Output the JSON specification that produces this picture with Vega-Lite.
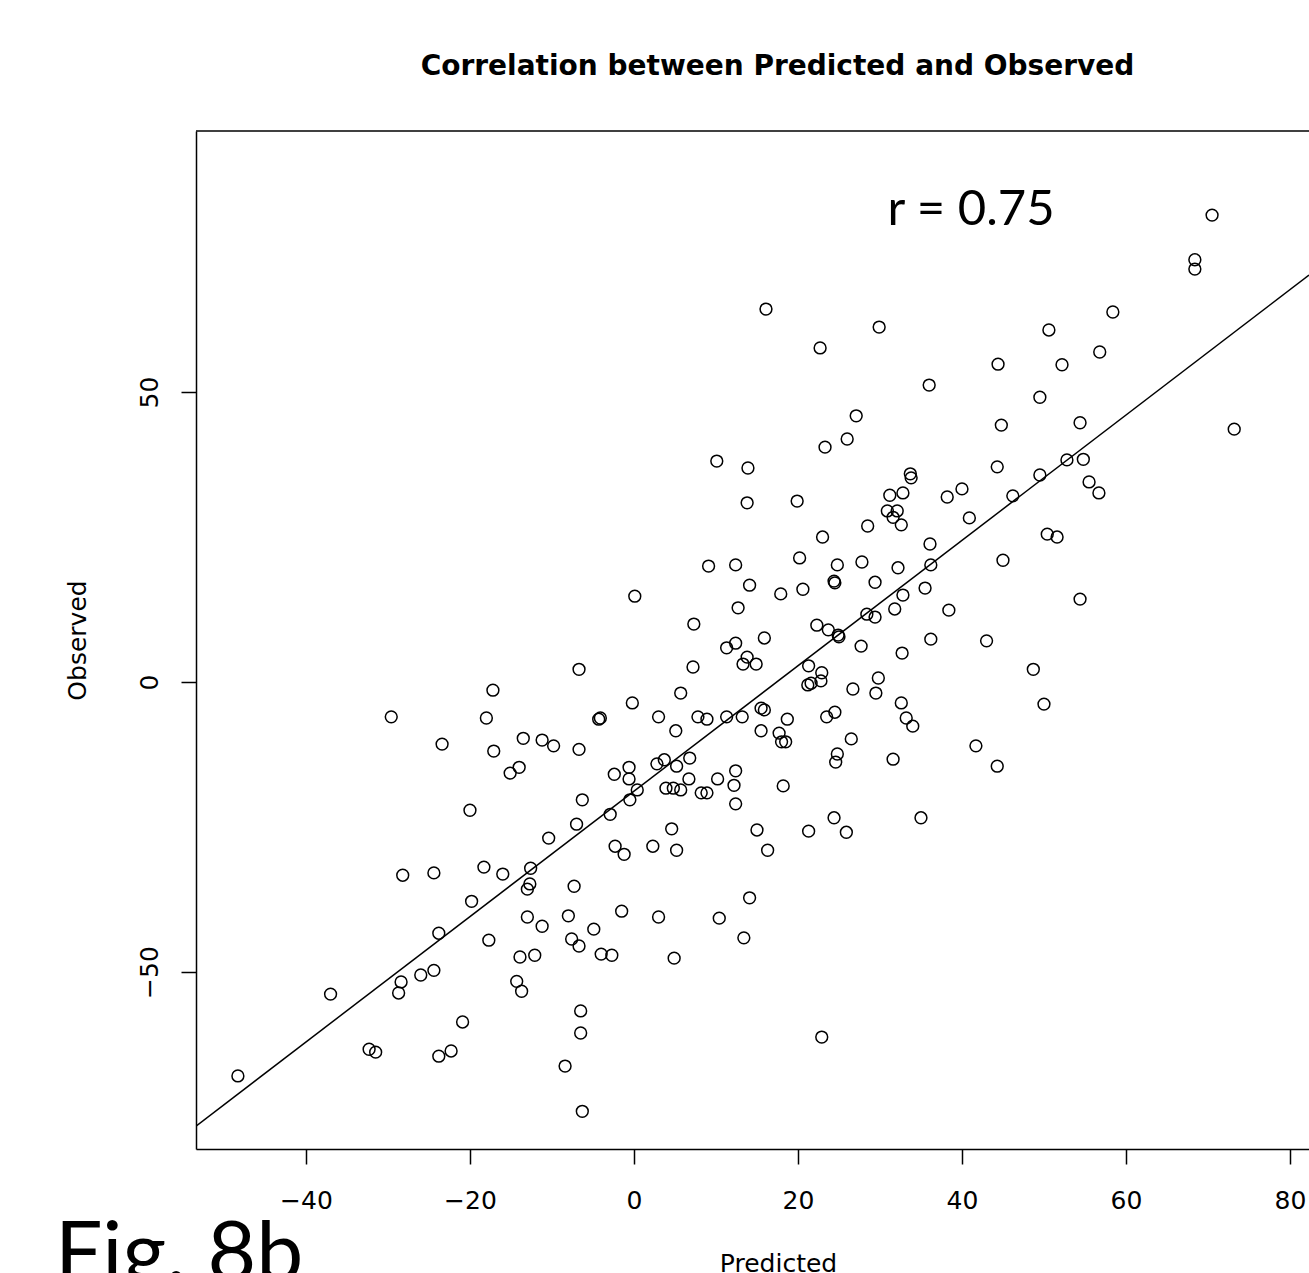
{
  "$schema": "https://vega.github.io/schema/vega-lite/v6.json",
  "width": 1113,
  "height": 1018,
  "autosize": {"type": "none"},
  "padding": {"left": 196, "top": 131, "right": 0, "bottom": 124},
  "background": "white",
  "title": {"text": "Correlation between Predicted and Observed", "font": "DejaVu Sans", "fontSize": 28, "fontWeight": "bold", "color": "black", "anchor": "middle", "dx": 25, "offset": 27, "baseline": "alphabetic"},
  "config": {"view": {"stroke": null}},
  "datasets": {
    "points": [
      {"Predicted": 16.1, "Observed": 64.3}, {"Predicted": 10.1, "Observed": 38.1}, {"Predicted": 13.9, "Observed": 36.9}, {"Predicted": 13.8, "Observed": 30.9},
      {"Predicted": 9.1, "Observed": 20.0}, {"Predicted": 12.4, "Observed": 20.2}, {"Predicted": 14.1, "Observed": 16.7}, {"Predicted": 0.1, "Observed": 14.8},
      {"Predicted": 12.7, "Observed": 12.8}, {"Predicted": 7.3, "Observed": 10.0}, {"Predicted": 12.4, "Observed": 6.7}, {"Predicted": 11.3, "Observed": 5.9},
      {"Predicted": 15.9, "Observed": 7.6},
      {"Predicted": 29.9, "Observed": 61.2}, {"Predicted": 22.7, "Observed": 57.6}, {"Predicted": 44.4, "Observed": 54.8}, {"Predicted": 36.0, "Observed": 51.2},
      {"Predicted": 49.5, "Observed": 49.1}, {"Predicted": 44.8, "Observed": 44.3}, {"Predicted": 27.1, "Observed": 45.9}, {"Predicted": 26.0, "Observed": 41.9},
      {"Predicted": 23.3, "Observed": 40.5}, {"Predicted": 44.3, "Observed": 37.1}, {"Predicted": 33.7, "Observed": 35.9}, {"Predicted": 33.8, "Observed": 35.2},
      {"Predicted": 49.5, "Observed": 35.7}, {"Predicted": 31.2, "Observed": 32.2}, {"Predicted": 32.8, "Observed": 32.6}, {"Predicted": 38.2, "Observed": 31.9},
      {"Predicted": 40.0, "Observed": 33.3}, {"Predicted": 46.2, "Observed": 32.1}, {"Predicted": 19.9, "Observed": 31.2}, {"Predicted": 30.9, "Observed": 29.5},
      {"Predicted": 32.1, "Observed": 29.5}, {"Predicted": 31.6, "Observed": 28.4}, {"Predicted": 32.6, "Observed": 27.1}, {"Predicted": 40.9, "Observed": 28.3},
      {"Predicted": 28.5, "Observed": 26.9}, {"Predicted": 23.0, "Observed": 25.0}, {"Predicted": 36.1, "Observed": 23.8}, {"Predicted": 50.4, "Observed": 25.5},
      {"Predicted": 20.2, "Observed": 21.4}, {"Predicted": 24.8, "Observed": 20.2}, {"Predicted": 27.8, "Observed": 20.7}, {"Predicted": 32.2, "Observed": 19.7},
      {"Predicted": 36.2, "Observed": 20.2}, {"Predicted": 45.0, "Observed": 21.0}, {"Predicted": 24.4, "Observed": 17.4}, {"Predicted": 24.5, "Observed": 17.1},
      {"Predicted": 29.4, "Observed": 17.2}, {"Predicted": 17.9, "Observed": 15.2}, {"Predicted": 20.6, "Observed": 16.0}, {"Predicted": 32.8, "Observed": 15.0},
      {"Predicted": 35.5, "Observed": 16.2}, {"Predicted": 28.4, "Observed": 11.7}, {"Predicted": 29.4, "Observed": 11.2}, {"Predicted": 31.8, "Observed": 12.6},
      {"Predicted": 38.4, "Observed": 12.4}, {"Predicted": 22.3, "Observed": 9.8}, {"Predicted": 23.7, "Observed": 9.0}, {"Predicted": 24.9, "Observed": 8.1},
      {"Predicted": 25.0, "Observed": 7.8}, {"Predicted": 27.7, "Observed": 6.2}, {"Predicted": 32.7, "Observed": 5.0}, {"Predicted": 36.2, "Observed": 7.4},
      {"Predicted": 43.0, "Observed": 7.1},
      {"Predicted": 70.5, "Observed": 80.5}, {"Predicted": 68.4, "Observed": 72.8}, {"Predicted": 68.4, "Observed": 71.2}, {"Predicted": 58.4, "Observed": 63.8},
      {"Predicted": 50.6, "Observed": 60.7}, {"Predicted": 56.8, "Observed": 56.9}, {"Predicted": 52.2, "Observed": 54.7}, {"Predicted": 54.4, "Observed": 44.7},
      {"Predicted": 73.2, "Observed": 43.6}, {"Predicted": 52.8, "Observed": 38.3}, {"Predicted": 54.8, "Observed": 38.4}, {"Predicted": 55.5, "Observed": 34.5},
      {"Predicted": 56.7, "Observed": 32.6}, {"Predicted": 51.6, "Observed": 25.0}, {"Predicted": 54.4, "Observed": 14.3},
      {"Predicted": -29.6, "Observed": -6.0}, {"Predicted": -18.0, "Observed": -6.2}, {"Predicted": -23.4, "Observed": -10.7}, {"Predicted": -20.0, "Observed": -22.1},
      {"Predicted": -28.2, "Observed": -33.3}, {"Predicted": -24.4, "Observed": -32.9}, {"Predicted": -18.3, "Observed": -31.9}, {"Predicted": -19.8, "Observed": -37.8},
      {"Predicted": -23.8, "Observed": -43.3}, {"Predicted": -17.7, "Observed": -44.5}, {"Predicted": -37.0, "Observed": -53.8}, {"Predicted": -28.4, "Observed": -51.7},
      {"Predicted": -28.7, "Observed": -53.6}, {"Predicted": -26.0, "Observed": -50.5}, {"Predicted": -24.4, "Observed": -49.7}, {"Predicted": -20.9, "Observed": -58.6},
      {"Predicted": -32.3, "Observed": -63.3}, {"Predicted": -31.5, "Observed": -63.8}, {"Predicted": -23.8, "Observed": -64.5}, {"Predicted": -22.3, "Observed": -63.6},
      {"Predicted": -48.3, "Observed": -67.9},
      {"Predicted": -6.7, "Observed": 2.2}, {"Predicted": -17.2, "Observed": -1.4}, {"Predicted": -17.1, "Observed": -11.9}, {"Predicted": -13.5, "Observed": -9.7},
      {"Predicted": -11.2, "Observed": -10.0}, {"Predicted": -9.8, "Observed": -11.0}, {"Predicted": -6.7, "Observed": -11.6}, {"Predicted": -4.3, "Observed": -6.4},
      {"Predicted": -4.1, "Observed": -6.2}, {"Predicted": -0.2, "Observed": -3.6}, {"Predicted": 3.0, "Observed": -6.0}, {"Predicted": 5.7, "Observed": -1.9},
      {"Predicted": 7.2, "Observed": 2.6}, {"Predicted": 13.8, "Observed": 4.3}, {"Predicted": 13.3, "Observed": 3.1}, {"Predicted": 14.9, "Observed": 3.1},
      {"Predicted": -14.0, "Observed": -14.7}, {"Predicted": -15.1, "Observed": -15.7}, {"Predicted": -2.4, "Observed": -15.9}, {"Predicted": -0.6, "Observed": -14.7},
      {"Predicted": -0.6, "Observed": -16.7}, {"Predicted": 0.4, "Observed": -18.6}, {"Predicted": -0.5, "Observed": -20.3}, {"Predicted": -6.3, "Observed": -20.3},
      {"Predicted": -2.9, "Observed": -22.8}, {"Predicted": -7.0, "Observed": -24.5}, {"Predicted": -10.4, "Observed": -26.9}, {"Predicted": 2.8, "Observed": -14.1},
      {"Predicted": 3.7, "Observed": -13.4}, {"Predicted": 5.2, "Observed": -14.5}, {"Predicted": 5.1, "Observed": -8.4}, {"Predicted": 6.8, "Observed": -13.1},
      {"Predicted": 6.7, "Observed": -16.7}, {"Predicted": 3.9, "Observed": -18.3}, {"Predicted": 4.8, "Observed": -18.3}, {"Predicted": 5.7, "Observed": -18.6},
      {"Predicted": 7.8, "Observed": -6.0}, {"Predicted": 8.9, "Observed": -6.4}, {"Predicted": 11.3, "Observed": -6.0}, {"Predicted": 13.2, "Observed": -6.0},
      {"Predicted": 15.5, "Observed": -4.5}, {"Predicted": 15.9, "Observed": -4.8}, {"Predicted": 15.5, "Observed": -8.4}, {"Predicted": 10.2, "Observed": -16.7},
      {"Predicted": 12.4, "Observed": -15.3}, {"Predicted": 12.2, "Observed": -17.8}, {"Predicted": 8.2, "Observed": -19.1}, {"Predicted": 8.9, "Observed": -19.1},
      {"Predicted": 12.4, "Observed": -21.0}, {"Predicted": 4.6, "Observed": -25.3}, {"Predicted": 2.3, "Observed": -28.3}, {"Predicted": 5.2, "Observed": -29.0},
      {"Predicted": -2.3, "Observed": -28.3}, {"Predicted": -1.2, "Observed": -29.7}, {"Predicted": 15.0, "Observed": -25.5}, {"Predicted": 16.3, "Observed": -29.0},
      {"Predicted": -16.0, "Observed": -33.1}, {"Predicted": -12.6, "Observed": -32.1}, {"Predicted": -12.7, "Observed": -34.8}, {"Predicted": -13.0, "Observed": -35.7},
      {"Predicted": -7.3, "Observed": -35.2}, {"Predicted": -13.0, "Observed": -40.5}, {"Predicted": -11.2, "Observed": -42.1}, {"Predicted": -8.0, "Observed": -40.3},
      {"Predicted": -4.9, "Observed": -42.6}, {"Predicted": -7.6, "Observed": -44.3}, {"Predicted": -6.7, "Observed": -45.5}, {"Predicted": -1.5, "Observed": -39.5},
      {"Predicted": 3.0, "Observed": -40.5}, {"Predicted": 10.4, "Observed": -40.7}, {"Predicted": 14.1, "Observed": -37.2}, {"Predicted": 13.4, "Observed": -44.1},
      {"Predicted": -13.9, "Observed": -47.4}, {"Predicted": -12.1, "Observed": -47.1}, {"Predicted": -4.0, "Observed": -46.9}, {"Predicted": -2.7, "Observed": -47.1},
      {"Predicted": 4.9, "Observed": -47.6}, {"Predicted": -14.3, "Observed": -51.6}, {"Predicted": -13.7, "Observed": -53.3}, {"Predicted": -6.5, "Observed": -56.7},
      {"Predicted": -6.5, "Observed": -60.5}, {"Predicted": -8.4, "Observed": -66.2}, {"Predicted": -6.3, "Observed": -74.0},
      {"Predicted": 48.7, "Observed": 2.2}, {"Predicted": 50.0, "Observed": -3.8}, {"Predicted": 21.3, "Observed": 2.8}, {"Predicted": 22.9, "Observed": 1.6},
      {"Predicted": 22.8, "Observed": 0.2}, {"Predicted": 21.2, "Observed": -0.5}, {"Predicted": 21.6, "Observed": -0.2}, {"Predicted": 26.7, "Observed": -1.2},
      {"Predicted": 29.8, "Observed": 0.7}, {"Predicted": 29.5, "Observed": -1.9}, {"Predicted": 32.6, "Observed": -3.6}, {"Predicted": 33.2, "Observed": -6.2},
      {"Predicted": 34.0, "Observed": -7.6}, {"Predicted": 18.7, "Observed": -6.4}, {"Predicted": 17.7, "Observed": -8.8}, {"Predicted": 18.0, "Observed": -10.3},
      {"Predicted": 18.5, "Observed": -10.3}, {"Predicted": 23.5, "Observed": -6.0}, {"Predicted": 24.5, "Observed": -5.2}, {"Predicted": 26.5, "Observed": -9.8},
      {"Predicted": 24.8, "Observed": -12.4}, {"Predicted": 24.6, "Observed": -13.8}, {"Predicted": 31.6, "Observed": -13.3}, {"Predicted": 41.7, "Observed": -11.0},
      {"Predicted": 44.3, "Observed": -14.5}, {"Predicted": 18.2, "Observed": -17.9}, {"Predicted": 24.4, "Observed": -23.4}, {"Predicted": 21.3, "Observed": -25.7},
      {"Predicted": 25.9, "Observed": -25.9}, {"Predicted": 35.0, "Observed": -23.4}, {"Predicted": 22.9, "Observed": -61.2}
    ],
    "fit": [
      {"Predicted": -53.41, "Observed": -76.55},
      {"Predicted": 82.32, "Observed": 70.17}
    ]
  },
  "layer": [
    {
      "data": {"name": "points"},
      "mark": {"type": "point", "shape": "circle", "filled": false, "stroke": "black", "strokeWidth": 1.5, "size": 140, "opacity": 1},
      "encoding": {
        "x": {"field": "Predicted", "type": "quantitative",
          "scale": {"domain": [-53.41, 82.32], "nice": false, "zero": false},
          "axis": {"values": [-40, -20, 0, 20, 40, 60, 80], "title": "Predicted", "grid": false,
            "domain": true, "domainColor": "black", "domainWidth": 1.5,
            "ticks": true, "tickColor": "black", "tickWidth": 1.5, "tickSize": 15,
            "labelFont": "DejaVu Sans", "labelFontSize": 25, "labelColor": "black", "labelPadding": 44,
            "labelBaseline": "alphabetic", "labelFlush": false, "labelOverlap": false,
            "titleFont": "DejaVu Sans", "titleFontSize": 25, "titleFontWeight": "normal", "titleColor": "black",
            "titleX": 582, "titleY": 122, "titleBaseline": "alphabetic", "titleAlign": "center"}},
        "y": {"field": "Observed", "type": "quantitative",
          "scale": {"domain": [-80.5, 95.0], "nice": false, "zero": false},
          "axis": {"values": [-50, 0, 50], "title": "Observed", "grid": false,
            "domain": true, "domainColor": "black", "domainWidth": 1.5,
            "ticks": true, "tickColor": "black", "tickWidth": 1.5, "tickSize": 15,
            "labelFont": "DejaVu Sans", "labelFontSize": 25, "labelColor": "black", "labelPadding": 24,
            "labelAngle": -90, "labelAlign": "center", "labelBaseline": "alphabetic", "labelFlush": false, "labelOverlap": false,
            "titleFont": "DejaVu Sans", "titleFontSize": 25, "titleFontWeight": "normal", "titleColor": "black",
            "titleAngle": -90, "titleX": -111, "titleY": 509, "titleBaseline": "alphabetic", "titleAlign": "center"}}
      }
    },
    {
      "data": {"name": "fit"},
      "mark": {"type": "line", "color": "black", "strokeWidth": 1.5, "clip": true},
      "encoding": {
        "x": {"field": "Predicted", "type": "quantitative"},
        "y": {"field": "Observed", "type": "quantitative"}
      }
    },
    {
      "data": {"values": [{}]},
      "mark": {"type": "rule", "color": "black", "strokeWidth": 1.5},
      "encoding": {"y": {"datum": 95.0}}
    },
    {
      "data": {"values": [{}]},
      "mark": {"type": "text", "text": "r = 0.75", "font": "Lato", "fontSize": 49, "color": "black", "align": "center", "baseline": "alphabetic"},
      "encoding": {"x": {"datum": 41.1}, "y": {"datum": 78.8}}
    },
    {
      "data": {"values": [{}]},
      "mark": {"type": "text", "text": "Fig. 8b", "font": "Lato", "fontSize": 84, "color": "black", "align": "left", "baseline": "alphabetic"},
      "encoding": {"x": {"datum": -70.6}, "y": {"datum": -103.3}}
    }
  ]
}
